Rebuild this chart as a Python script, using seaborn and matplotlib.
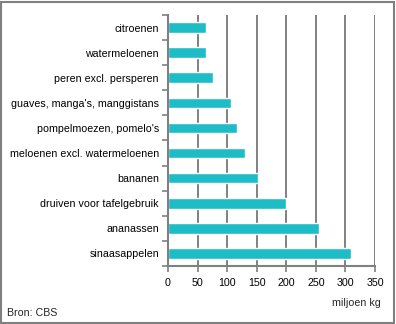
import matplotlib
matplotlib.use("Agg")
import matplotlib.pyplot as plt
import seaborn as sns
import pandas as pd
import numpy as np
from matplotlib.patches import Rectangle

categories = ["citroenen", "watermeloenen", "peren excl. persperen",
              "guaves, manga's, manggistans", "pompelmoezen, pomelo's",
              "meloenen excl. watermeloenen", "bananen",
              "druiven voor tafelgebruik", "ananassen", "sinaasappelen"]
values = [64, 65, 76, 106, 116, 130, 153, 199, 256, 309]
xticks = [0, 50, 100, 150, 200, 250, 300, 350]

sns.set_theme(style="white")
plt.rcParams['font.family'] = ['Liberation Sans', 'DejaVu Sans']

df = pd.DataFrame({"cat": categories, "val": values})

fig = plt.figure(figsize=(3.96, 3.24), dpi=100)
ax = fig.add_axes([168/396, 1-266/324, (375-168)/396, (266-15)/324])
sns.barplot(data=df, x="val", y="cat", orient="h", color="#1DBCC6",
            saturation=1, width=0.42, ax=ax, zorder=3)

grey = "#808080"
fs = 7.7
ax.set_xlim(0, 350)
ax.set_ylim(9.5, -0.5)
ax.set_xticks(xticks)
ax.set_xticklabels([str(t) for t in xticks], fontsize=fs, color="black")
ax.grid(False)
for t in xticks[1:]:
    ax.axvline(t, color=grey, lw=1.4, zorder=1)
ax.tick_params(axis="x", length=4, width=1.2, color=grey, direction="out", pad=5, bottom=True)
ax.set_yticks(range(len(categories)))
ax.set_yticklabels(categories, fontsize=fs, color="black")
ax.tick_params(axis="y", which="major", length=0, pad=6.5)
ax.set_yticks(np.arange(-0.5, 10, 1), minor=True)
ax.tick_params(axis="y", which="minor", length=4, width=1.2, color=grey, direction="out", left=True)
ax.set_xlabel("")
ax.set_ylabel("")
for s in ["top", "right"]:
    ax.spines[s].set_visible(False)
for s in ["left", "bottom"]:
    ax.spines[s].set_color(grey)
    ax.spines[s].set_linewidth(1.5)
    ax.spines[s].set_zorder(4)

fig.text(381/396, 1-303/324, "miljoen kg", ha="right", va="center", fontsize=fs)
fig.text(7/396, 1-313/324, "Bron: CBS", ha="left", va="center", fontsize=fs)
fig.patches.append(Rectangle((1/396, 1/324), 393/396, 321/324, transform=fig.transFigure,
                             fill=False, edgecolor=grey, lw=1.5))

fig.savefig("out.png", dpi=100)
